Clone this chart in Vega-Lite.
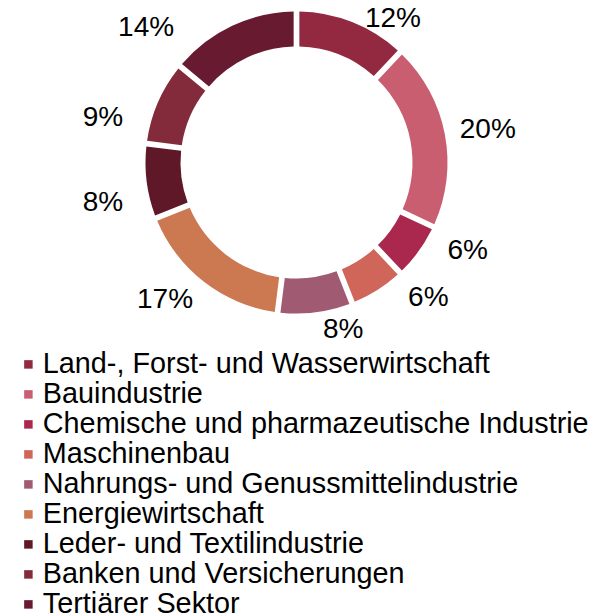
{
  "$schema": "https://vega.github.io/schema/vega-lite/v6.json",
  "width": 593,
  "height": 325,
  "padding": 0,
  "background": "white",
  "config": {"view": {"stroke": null}, "font": "Liberation Sans"},
  "data": {"values": [
    {"cat": "Land-, Forst- und Wasserwirtschaft", "value": 12, "label": "12%", "idx": 1},
    {"cat": "Bauindustrie", "value": 20, "label": "20%", "idx": 2},
    {"cat": "Chemische und pharmazeutische Industrie", "value": 6, "label": "6%", "idx": 3},
    {"cat": "Maschinenbau", "value": 6, "label": "6%", "idx": 4},
    {"cat": "Nahrungs- und Genussmittelindustrie", "value": 8, "label": "8%", "idx": 5},
    {"cat": "Energiewirtschaft", "value": 17, "label": "17%", "idx": 6},
    {"cat": "Leder- und Textilindustrie", "value": 8, "label": "8%", "idx": 7},
    {"cat": "Banken und Versicherungen", "value": 9, "label": "9%", "idx": 8},
    {"cat": "Tertiärer Sektor", "value": 14, "label": "14%", "idx": 9}
  ]},
  "transform": [
    {"window": [{"op": "sum", "field": "value", "as": "cum"}], "sort": [{"field": "idx", "order": "ascending"}], "frame": [null, 0]}
  ],
  "layer": [
    {
      "mark": {"type": "arc", "innerRadius": 116, "outerRadius": 151, "padAngle": 0.03},
      "encoding": {
        "theta": {"field": "value", "type": "quantitative", "stack": true, "scale": {"domain": [0, 100]}},
        "order": {"field": "idx", "type": "quantitative"},
        "color": {
          "field": "cat", "type": "nominal", "sort": null,
          "scale": {
            "domain": ["Land-, Forst- und Wasserwirtschaft", "Bauindustrie", "Chemische und pharmazeutische Industrie", "Maschinenbau", "Nahrungs- und Genussmittelindustrie", "Energiewirtschaft", "Leder- und Textilindustrie", "Banken und Versicherungen", "Tertiärer Sektor"],
            "range": ["#932841", "#c95e70", "#aa284e", "#d0665a", "#a05a72", "#cc7850", "#5e1827", "#832b3a", "#671a30"]
          },
          "legend": {
            "title": null, "orient": "none", "legendX": 14, "legendY": 350,
            "direction": "vertical", "symbolType": "square", "symbolSize": 72,
            "symbolStrokeWidth": 0, "labelFontSize": 28.8, "labelFont": "Liberation Sans",
            "labelColor": "black", "labelOffset": 0, "rowPadding": 0, "labelLimit": 700, "padding": 0
          }
        }
      }
    },
    {"transform": [{"filter": "datum.idx === 1"}],
     "mark": {"type": "text", "fontSize": 28, "color": "black", "radius": 172.5, "thetaOffset": -0.161},
     "encoding": {"theta": {"field": "cum", "type": "quantitative", "stack": null}, "text": {"field": "label"}}},
    {"transform": [{"filter": "datum.idx === 2"}],
     "mark": {"type": "text", "fontSize": 28, "color": "black", "radius": 194, "thetaOffset": -0.607},
     "encoding": {"theta": {"field": "cum", "type": "quantitative", "stack": null}, "text": {"field": "label"}}},
    {"transform": [{"filter": "datum.idx === 3"}],
     "mark": {"type": "text", "fontSize": 28, "color": "black", "radius": 192.5, "thetaOffset": -0.342},
     "encoding": {"theta": {"field": "cum", "type": "quantitative", "stack": null}, "text": {"field": "label"}}},
    {"transform": [{"filter": "datum.idx === 4"}],
     "mark": {"type": "text", "fontSize": 28, "color": "black", "radius": 189, "thetaOffset": -0.395},
     "encoding": {"theta": {"field": "cum", "type": "quantitative", "stack": null}, "text": {"field": "label"}}},
    {"transform": [{"filter": "datum.idx === 5"}],
     "mark": {"type": "text", "fontSize": 28, "color": "black", "radius": 173.7, "thetaOffset": -0.398},
     "encoding": {"theta": {"field": "cum", "type": "quantitative", "stack": null}, "text": {"field": "label"}}},
    {"transform": [{"filter": "datum.idx === 6"}],
     "mark": {"type": "text", "fontSize": 28, "color": "black", "radius": 190.3, "thetaOffset": -0.431},
     "encoding": {"theta": {"field": "cum", "type": "quantitative", "stack": null}, "text": {"field": "label"}}},
    {"transform": [{"filter": "datum.idx === 7"}],
     "mark": {"type": "text", "fontSize": 28, "color": "black", "radius": 197.7, "thetaOffset": -0.332},
     "encoding": {"theta": {"field": "cum", "type": "quantitative", "stack": null}, "text": {"field": "label"}}},
    {"transform": [{"filter": "datum.idx === 8"}],
     "mark": {"type": "text", "fontSize": 28, "color": "black", "radius": 198.6, "thetaOffset": -0.464},
     "encoding": {"theta": {"field": "cum", "type": "quantitative", "stack": null}, "text": {"field": "label"}}},
    {"transform": [{"filter": "datum.idx === 9"}],
     "mark": {"type": "text", "fontSize": 28, "color": "black", "radius": 201.8, "thetaOffset": -0.841},
     "encoding": {"theta": {"field": "cum", "type": "quantitative", "stack": null}, "text": {"field": "label"}}}
  ]
}
